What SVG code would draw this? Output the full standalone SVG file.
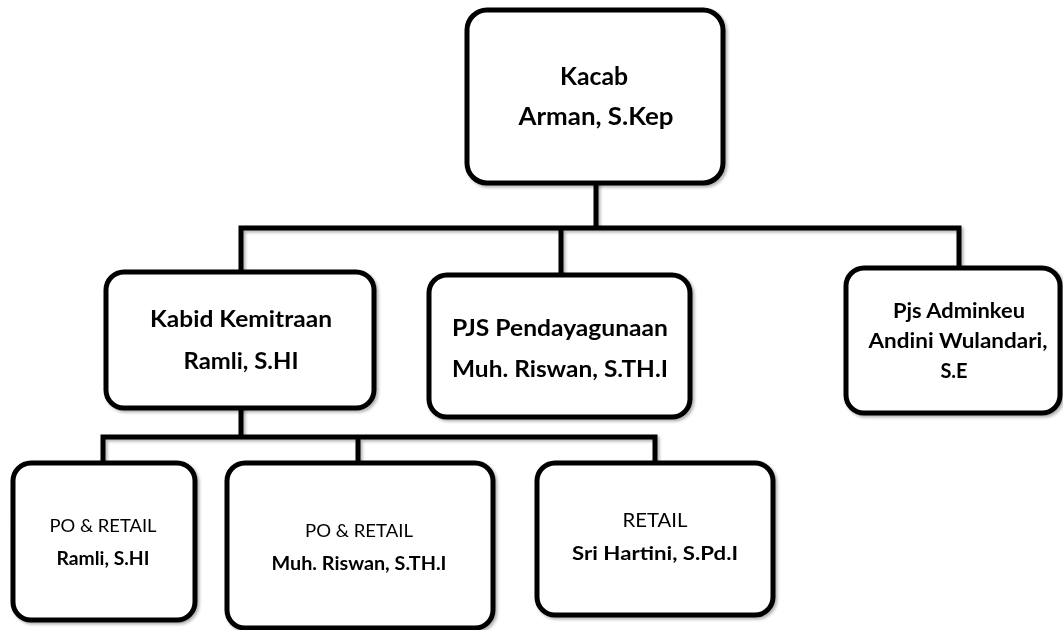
<svg xmlns="http://www.w3.org/2000/svg" width="1063" height="630" viewBox="0 0 1063 630">
<defs>
<filter id="sh" x="-10%" y="-10%" width="130%" height="130%">
<feGaussianBlur in="SourceAlpha" stdDeviation="1.5"/>
<feOffset dx="2" dy="2" result="b"/>
<feComponentTransfer><feFuncA type="linear" slope="0.3"/></feComponentTransfer>
<feMerge><feMergeNode/><feMergeNode in="SourceGraphic"/></feMerge>
</filter>
<style>
.box{fill:#fff;stroke:#000;stroke-width:5}
.ln{fill:none;stroke:#000;stroke-width:5;stroke-linecap:square}
text{font-family:Lato,"Open Sans","Liberation Sans",sans-serif;text-anchor:middle;fill:#000}
.b{font-weight:bold}
.r{font-weight:normal}
</style>
</defs>
<rect width="1063" height="630" fill="#fff"/>
<g id="connectors" filter="url(#sh)">
<path class="ln" d="M596 183 V228 M241 228 H959 M241 228 V272 M561 228 V275 M959 228 V268"/>
<path class="ln" d="M241 408 V437 M103 437 H655 M103 437 V463 M358 437 V463 M655 437 V463"/>
</g>
<g id="kacab" filter="url(#sh)">
<rect class="box" x="467" y="10" width="256" height="173" rx="20"/>
<text class="b" x="594" y="85" font-size="24" textLength="68" lengthAdjust="spacingAndGlyphs">Kacab</text>
<text class="b" x="596" y="125" font-size="24" textLength="155" lengthAdjust="spacingAndGlyphs">Arman, S.Kep</text>
</g>
<g id="kabid" filter="url(#sh)">
<rect class="box" x="106" y="272" width="268" height="136" rx="18"/>
<text class="b" x="241" y="327" font-size="22" textLength="182" lengthAdjust="spacingAndGlyphs">Kabid Kemitraan</text>
<text class="b" x="241" y="369" font-size="22" textLength="115" lengthAdjust="spacingAndGlyphs">Ramli, S.HI</text>
</g>
<g id="pjs" filter="url(#sh)">
<rect class="box" x="429" y="275" width="261" height="142" rx="18"/>
<text class="b" x="560" y="336" font-size="22" textLength="216" lengthAdjust="spacingAndGlyphs">PJS Pendayagunaan</text>
<text class="b" x="560" y="377" font-size="22" textLength="216" lengthAdjust="spacingAndGlyphs">Muh. Riswan, S.TH.I</text>
</g>
<g id="adminkeu" filter="url(#sh)">
<rect class="box" x="846" y="268" width="214" height="145" rx="18"/>
<text class="b" x="959" y="318" font-size="20" textLength="132" lengthAdjust="spacingAndGlyphs">Pjs Adminkeu</text>
<text class="b" x="958" y="348" font-size="20" textLength="179" lengthAdjust="spacingAndGlyphs">Andini Wulandari,</text>
<text class="b" x="954" y="378" font-size="20">S.E</text>
</g>
<g id="po1" filter="url(#sh)">
<rect class="box" x="13" y="463" width="182" height="157" rx="18"/>
<text class="r" x="103" y="532" font-size="18" textLength="107" lengthAdjust="spacingAndGlyphs">PO &amp; RETAIL</text>
<text class="b" x="103" y="565" font-size="18" textLength="93" lengthAdjust="spacingAndGlyphs">Ramli, S.HI</text>
</g>
<g id="po2" filter="url(#sh)">
<rect class="box" x="227" y="463" width="266" height="165" rx="18"/>
<text class="r" x="359" y="537" font-size="18" textLength="108" lengthAdjust="spacingAndGlyphs">PO &amp; RETAIL</text>
<text class="b" x="359" y="570" font-size="18" textLength="175" lengthAdjust="spacingAndGlyphs">Muh. Riswan, S.TH.I</text>
</g>
<g id="retail" filter="url(#sh)">
<rect class="box" x="537" y="463" width="236" height="152" rx="18"/>
<text class="r" x="655" y="527" font-size="19" textLength="65" lengthAdjust="spacingAndGlyphs">RETAIL</text>
<text class="b" x="655" y="560" font-size="19" textLength="166" lengthAdjust="spacingAndGlyphs">Sri Hartini, S.Pd.I</text>
</g>
</svg>
